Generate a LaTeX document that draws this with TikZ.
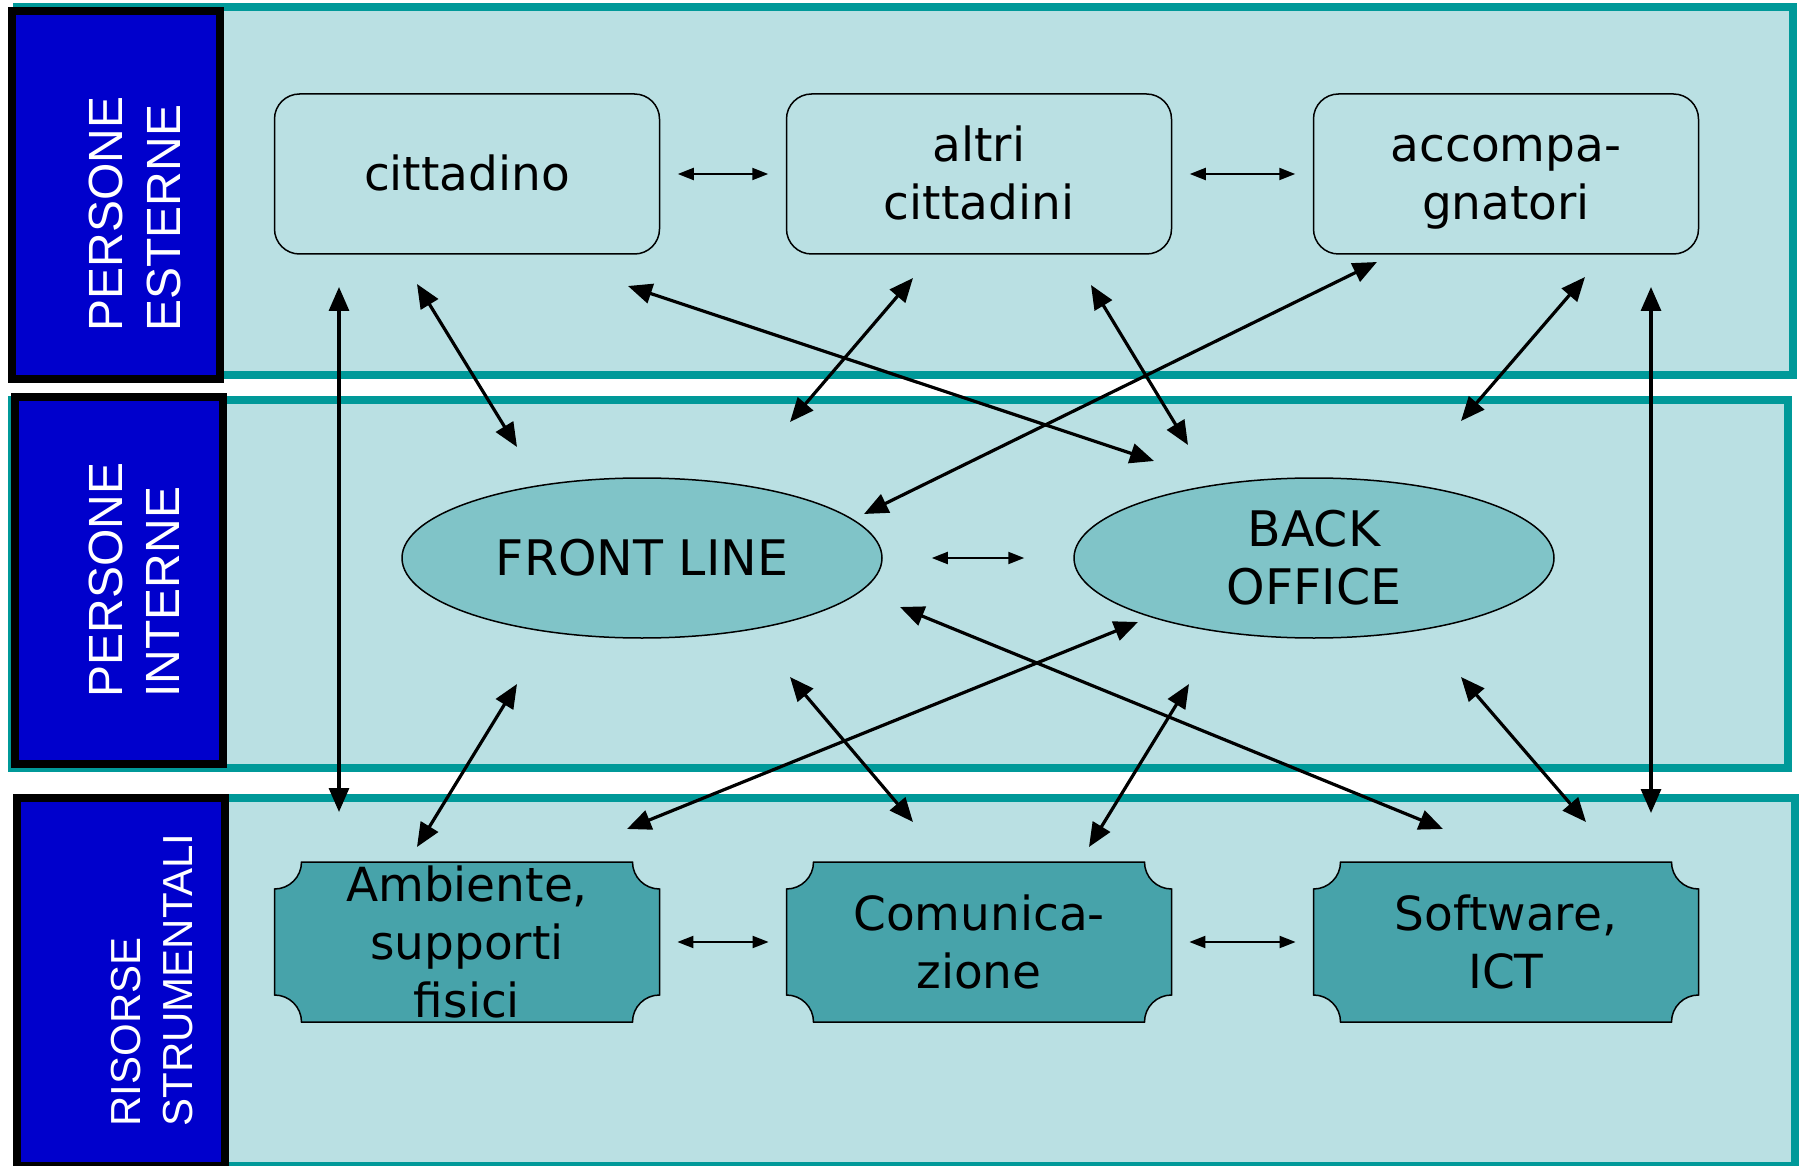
\documentclass[tikz,border=0pt]{standalone}
\usepackage{fontspec}
\setmainfont{DejaVu Sans}
\newfontfamily\labelfont{Liberation Sans}
\usetikzlibrary{shapes.geometric,arrows.meta,calc}

\definecolor{bandfill}{HTML}{BAE0E3}
\definecolor{bandline}{HTML}{009999}
\definecolor{ellfill}{HTML}{80C4C8}
\definecolor{scrollfill}{HTML}{47A3AA}
\definecolor{sideblue}{HTML}{0000CC}

\pgfdeclarelayer{back}
\pgfdeclarelayer{mid}
\pgfsetlayers{back,mid,main}

% line strut giving every text line the same box
\newcommand\lnst{\rule[-6pt]{0pt}{29pt}}

\tikzset{
  band/.style={draw=bandline, fill=bandfill, line width=4pt},
  sidebox/.style={draw=black, fill=sideblue, line width=4pt},
  sidelabel/.style={text=white, rotate=90, inner sep=0pt, align=left},
  boxtext/.style={inner sep=0pt, align=center, minimum width=192.5pt, minimum height=80pt,
    font=\fontsize{23.5}{29}\selectfont},
  roundbox/.style={boxtext, draw=black, line width=0.75pt, rounded corners=12.5pt},
  scrollbox/.style={boxtext},
  scrollshape/.style={draw=black, fill=scrollfill, line width=0.75pt},
  oval/.style={ellipse, draw=black, fill=ellfill, line width=0.75pt, inner xsep=0pt,
    inner ysep=-3pt, align=center, minimum width=240pt, minimum height=80pt,
    font=\fontsize{24.5}{29}\selectfont},
  thinarrow/.style={line width=1pt, {Triangle[length=8pt,width=6pt]}-{Triangle[length=8pt,width=6pt]}},
  thickarrow/.style={line width=1.6pt, {Triangle[length=12pt,width=10pt]}-{Triangle[length=12pt,width=10pt]}},
}

\begin{document}
\begin{tikzpicture}[x=0.5pt, y=-0.5pt]
\useasboundingbox (0,0) rectangle (1800,1166);

% bands and their side labels
\begin{pgfonlayer}{back}
  \draw[band] (17,7) rectangle (1793,375);
  \draw[band] (12,400) rectangle (1788,768);
  \draw[band] (17,798) rectangle (1795,1166);
  \draw[sidebox] (12,11) rectangle (220,379);
  \draw[sidebox] (15,397) rectangle (223,764);
  \draw[sidebox] (17,798) rectangle (225,1166);
\end{pgfonlayer}

\node[sidelabel, anchor=south west, font=\labelfont\fontsize{24}{29}\selectfont]
  (lab1) at (181,332) {PERSONE\\ESTERNE};
\node[sidelabel, anchor=south west, font=\labelfont\fontsize{24}{28.5}\selectfont]
  (lab2) at (180,698) {PERSONE\\INTERNE};
\node[sidelabel, anchor=south west, font=\labelfont\fontsize{21}{26}\selectfont]
  (lab3) at (193,1127) {RISORSE\\STRUMENTALI};

% persone esterne
\node[roundbox] (cit) at (467,174) {\lnst cittadino};
\node[roundbox] (alt) at (979,174) {\lnst altri\\\lnst cittadini};
\node[roundbox] (acc) at (1506,174) {\lnst accompa-\\\lnst gnatori};

% persone interne
\node[oval] (fl) at (642,558) {\lnst FRONT LINE};
\node[oval] (bo) at (1314,558) {\lnst BACK\\\lnst OFFICE};

% risorse strumentali
\node[scrollbox] (amb) at (467,942) {\lnst Ambiente,\\\lnst supporti\\\lnst fisici};
\node[scrollbox] (com) at (979,942) {\lnst Comunica-\\\lnst zione};
\node[scrollbox] (sof) at (1506,942) {\lnst Software,\\\lnst ICT};

% scroll outlines (385 x 160, concave corners) behind the texts
\begin{pgfonlayer}{mid}
  \foreach \n in {amb,com,sof} {
    \draw[scrollshape]
      ($(\n.center)+(-165.5,-80)$) -- ($(\n.center)+(165.5,-80)$)
      arc[start angle=180, end angle=270, radius=13.5pt]
      -- ($(\n.center)+(192.5,53)$)
      arc[start angle=90, end angle=180, radius=13.5pt]
      -- ($(\n.center)+(-165.5,80)$)
      arc[start angle=0, end angle=90, radius=13.5pt]
      -- ($(\n.center)+(-192.5,-53)$)
      arc[start angle=270, end angle=360, radius=13.5pt]
      -- cycle;
  }
\end{pgfonlayer}

% short links between neighbours
\draw[thinarrow, shorten <=8.75pt, shorten >=8.75pt] (cit) -- (alt);
\draw[thinarrow, shorten <=8.75pt, shorten >=8.75pt] (alt) -- (acc);
\draw[thinarrow, shorten <=24.5pt, shorten >=24.5pt] (fl) -- (bo);
\draw[thinarrow, shorten <=8.75pt, shorten >=8.75pt] (amb) -- (com);
\draw[thinarrow, shorten <=8.75pt, shorten >=8.75pt] (com) -- (sof);

% end points of the long links
\coordinate (citA) at (339,287);  \coordinate (ambA) at (339,812);
\coordinate (accA) at (1651,287); \coordinate (sofA) at (1651,813);
\coordinate (citB) at (417,284);  \coordinate (flB) at (517,447);
\coordinate (citC) at (628,286);  \coordinate (boC) at (1154,461);
\coordinate (altD) at (913,278);  \coordinate (flD) at (790,422);
\coordinate (altE) at (1091,285); \coordinate (boE) at (1188,445);
\coordinate (accF) at (1377,262); \coordinate (flF) at (864,514);
\coordinate (accG) at (1585,277); \coordinate (boG) at (1461,421);
\coordinate (flH) at (517,684);   \coordinate (ambH) at (417,847);
\coordinate (flI) at (790,677);   \coordinate (comI) at (913,822);
\coordinate (flJ) at (900,607);   \coordinate (sofJ) at (1443,829);
\coordinate (boK) at (1138,622);  \coordinate (ambK) at (627,829);
\coordinate (boL) at (1189,684);  \coordinate (comL) at (1089,847);
\coordinate (boM) at (1461,677);  \coordinate (sofM) at (1586,822);

% long links
\draw[thickarrow] (citA) -- (ambA);
\draw[thickarrow] (accA) -- (sofA);
\draw[thickarrow] (citB) -- (flB);
\draw[thickarrow] (citC) -- (boC);
\draw[thickarrow] (altD) -- (flD);
\draw[thickarrow] (altE) -- (boE);
\draw[thickarrow] (accF) -- (flF);
\draw[thickarrow] (accG) -- (boG);
\draw[thickarrow] (flH) -- (ambH);
\draw[thickarrow] (flI) -- (comI);
\draw[thickarrow] (flJ) -- (sofJ);
\draw[thickarrow] (boK) -- (ambK);
\draw[thickarrow] (boL) -- (comL);
\draw[thickarrow] (boM) -- (sofM);
\end{tikzpicture}
\end{document}
